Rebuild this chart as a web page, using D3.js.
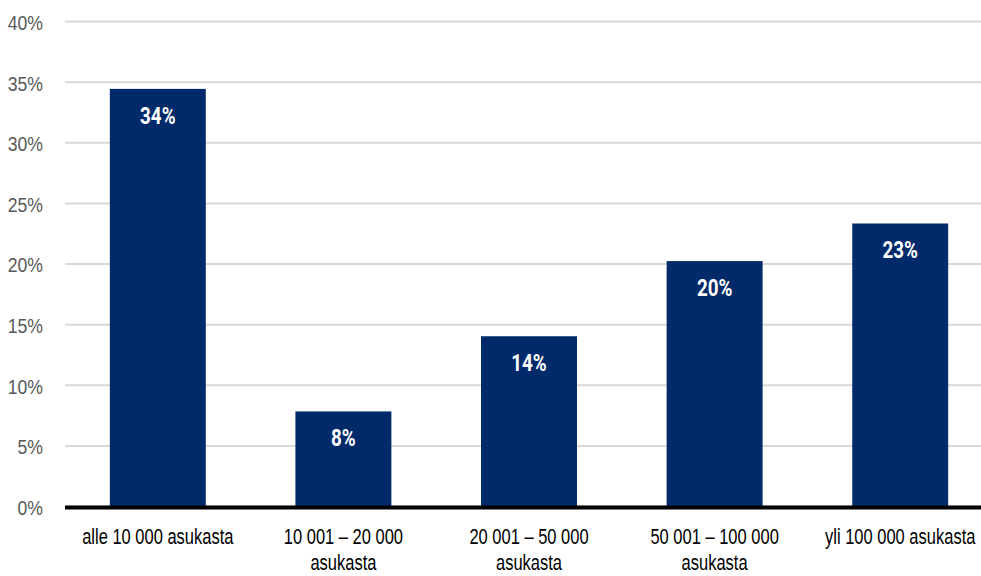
<!DOCTYPE html>
<html>
<head>
<meta charset="utf-8">
<script src="https://cdn.jsdelivr.net/npm/d3@7"></script>
<style>
  html, body { margin: 0; padding: 0; background: #fff; }
  svg { display: block; font-family: Roboto, "Liberation Sans", sans-serif; }
</style>
</head>
<body>
<svg id="chart" width="981" height="576"></svg>
<script>
// Share of respondents by municipality size
const categories = [
  ["alle 10 000 asukasta"],
  ["10 001 – 20 000", "asukasta"],
  ["20 001 – 50 000", "asukasta"],
  ["50 001 – 100 000", "asukasta"],
  ["yli 100 000 asukasta"]
];
const values = [34.4, 7.8, 14.0, 20.2, 23.3];
const yTicks = [0, 5, 10, 15, 20, 25, 30, 35, 40];

const width = 981, height = 576;
const plot = { left: 65, right: 993, top: 21, bottom: 506 };

// narrow the glyphs to a condensed look
const squeeze = { tick: 0.86, value: 0.8, category: 0.75 };

const svg = d3.select("#chart");

const x = d3.scaleBand()
  .domain(d3.range(categories.length))
  .range([plot.left, plot.right])
  .paddingInner(0.483)
  .paddingOuter(0.2415);

const y = d3.scaleLinear()
  .domain([0, 40])
  .range([plot.bottom, plot.top]);

// Horizontal gridlines
const yAxis = d3.axisLeft(y)
  .tickValues(yTicks)
  .tickSize(-(width - plot.left))
  .tickFormat("");

const gy = svg.append("g")
  .attr("transform", `translate(${plot.left},0)`)
  .call(yAxis);
gy.select(".domain").remove();
gy.selectAll(".tick line").attr("stroke", "#d9d9d9").attr("stroke-width", 2);

// Y-axis labels, right aligned left of the gridlines
gy.selectAll(".tick").append("text")
  .attr("transform", `translate(-22,1) scale(${squeeze.tick},1)`)
  .attr("x", 0)
  .attr("dy", "0.36em")
  .attr("text-anchor", "end")
  .attr("fill", "#595959")
  .attr("font-size", 20.5)
  .text(d => d + "%");

// Bars
svg.append("g").selectAll("rect")
  .data(values)
  .join("rect")
  .attr("x", (d, i) => x(i))
  .attr("width", x.bandwidth())
  .attr("y", d => y(d))
  .attr("height", d => y(0) - y(d))
  .attr("fill", "#012a6b");

// Value labels inside bars
svg.append("g").selectAll("text")
  .data(values)
  .join("text")
  .attr("transform", (d, i) =>
    `translate(${x(i) + x.bandwidth() / 2},${y(d) + 35}) scale(${squeeze.value},1)`)
  .attr("text-anchor", "middle")
  .attr("fill", "#fff")
  .attr("font-size", 23.5)
  .attr("font-weight", "bold")
  .text(d => Math.round(d) + "%");

// Baseline
svg.append("line")
  .attr("x1", plot.left)
  .attr("x2", width)
  .attr("y1", y(0) + 1.5)
  .attr("y2", y(0) + 1.5)
  .attr("stroke", "#000")
  .attr("stroke-width", 4);

// Category labels
const xAxis = d3.axisBottom(x).tickSize(0).tickFormat("");
const gx = svg.append("g")
  .attr("transform", `translate(0,${y(0)})`)
  .call(xAxis);
gx.select(".domain").remove();
gx.selectAll(".tick").each(function(i) {
  const t = d3.select(this).append("text")
    .attr("transform", `scale(${squeeze.category},1)`)
    .attr("text-anchor", "middle")
    .attr("fill", "#000")
    .attr("font-size", 22)
    .attr("font-weight", 500);
  categories[i].forEach((line, k) => {
    t.append("tspan").attr("x", 0).attr("y", 38 + k * 26.5).text(line);
  });
});
</script>
</body>
</html>
